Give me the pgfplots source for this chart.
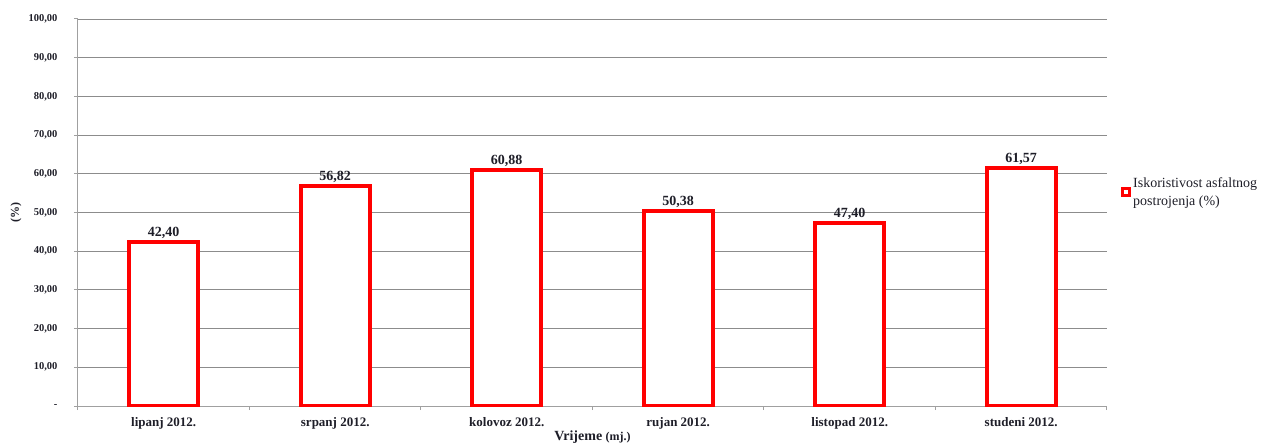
\documentclass[border=0pt]{standalone}
\usepackage{fontspec}
\setmainfont{Liberation Serif}
\usepackage{pgfplots}
\pgfplotsset{compat=1.18}
\definecolor{txt}{RGB}{30,30,40}
\definecolor{gridc}{RGB}{140,140,140}
\definecolor{axc}{RGB}{160,160,160}
\definecolor{barred}{RGB}{255,0,0}
\begin{document}
\begin{tikzpicture}
\path[use as bounding box] (-78pt,-36pt) rectangle (1185pt,406pt);
\begin{axis}[
  at={(0pt,0pt)}, anchor=south west,
  scale only axis, width=1029pt, height=387pt,
  xmin=-0.5, xmax=5.5, ymin=0, ymax=100,
  axis x line*=bottom, axis y line*=left,
  axis line style={axc, line width=1pt, -},
  tick align=outside,
  major tick length=4pt, minor tick length=4pt,
  xtick={0,...,5},
  xticklabels={lipanj 2012., srpanj 2012., kolovoz 2012., rujan 2012., listopad 2012., studeni 2012.},
  major x tick style={draw=none},
  minor xtick={-0.5,0.5,...,5.5},
  minor x tick style={draw=axc, line width=1pt},
  x tick label style={font=\bfseries\fontsize{13}{13}\selectfont, text=txt, yshift=-4pt},
  ytick={0,10,...,100},
  yticklabels={-,{10,00},{20,00},{30,00},{40,00},{50,00},{60,00},{70,00},{80,00},{90,00},{100,00}},
  y tick style={draw=axc, line width=1pt},
  y tick label style={font=\bfseries\fontsize{10.5}{10.5}\selectfont, text=txt, xshift=-13pt},
  ymajorgrids,
  grid style={gridc, line width=0.8pt},
  ylabel={(\%)},
  ylabel style={at={(axis description cs:-0.0603,0.5)}, anchor=center, font=\bfseries\fontsize{12}{12}\selectfont, text=txt},
  xlabel={Vrijeme {\fontsize{12}{12}\selectfont(mj.)}},
  xlabel style={at={(axis description cs:0.5,-0.080)}, anchor=center, font=\bfseries\fontsize{14}{14}\selectfont, text=txt},
  legend style={at={(axis description cs:1.0136,0.591)}, anchor=north west, draw=none, fill=none,
    inner sep=0pt, column sep=2pt, nodes={inner sep=0pt, text=txt},
    font=\fontsize{14}{18}\selectfont, cells={align=left}},
  legend image code/.code={\draw[barred, line width=3pt, fill=white] (1.5pt,-3.5pt) rectangle (8.5pt,3.5pt);},
  nodes near coords={\pgfmathprintnumber[fixed,fixed zerofill,precision=2,use comma,assume math mode=true]{\pgfplotspointmeta}},
  every node near coord/.append style={font=\bfseries\fontsize{14}{14}\selectfont, text=txt, yshift=-2pt},
]
\addplot[ybar, bar width=69pt, draw=barred, line width=4pt, fill=white] coordinates {
  (0,42.40) (1,56.82) (2,60.88) (3,50.38) (4,47.40) (5,61.57)
};
\addlegendentry{Iskoristivost asfaltnog\\postrojenja (\%)}
\end{axis}
\end{tikzpicture}
\end{document}
